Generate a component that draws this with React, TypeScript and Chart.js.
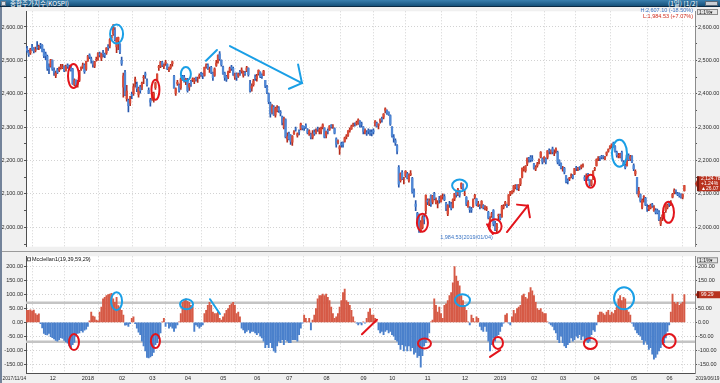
import React, { useEffect, useRef } from 'react';
import { Chart, registerables } from 'chart.js';
Chart.register(...registerables);

const FONT = '"Liberation Sans", Arial, sans-serif';

// ---- categories / ticks ----
const monthStartIdx = [13, 32, 54, 72, 93, 114, 134, 153, 175, 197, 214, 235, 257, 276, 298, 315, 335, 357, 378];
const monthLabels = ['12', '2018', '02', '03', '04', '05', '06', '07', '08', '09', '10', '11', '12', '2019', '02', '03', '04', '05', '06'];
const firstDate = '2017/11/14';
const lastDate = '2019/06/19';
const priceTicks = [1950, 2000, 2050, 2100, 2150, 2200, 2250, 2300, 2350, 2400, 2450, 2500, 2550, 2600];
const mccTicks = [-150, -100, -50, 0, 50, 100, 150, 200];
const mccBands = [70, -70];

// ---- KOSPI daily OHLC (2017/11/14 - 2019/06/19) ----
const open = [
  2535, 2526, 2522, 2540, 2535, 2530, 2540, 2540, 2545, 2545, 2530, 2520, 2512,
  2478, 2483, 2500, 2470, 2455, 2472, 2470, 2478, 2478, 2482, 2470, 2485, 2480, 2478, 2474, 2428, 2440, 2429, 2440,
  2474, 2481, 2486, 2474, 2500, 2516, 2505, 2497, 2483, 2502, 2508, 2520, 2507, 2522, 2519, 2522, 2541, 2543, 2567, 2580, 2590, 2540,
  2560, 2548, 2500, 2420, 2464, 2385, 2380, 2372, 2398, 2400, 2438, 2428, 2398, 2420, 2420, 2448, 2460, 2439,
  2410, 2382, 2386, 2383, 2418, 2440, 2478, 2483, 2495, 2482, 2491, 2488, 2472, 2478, 2490, 2452, 2402, 2430, 2425, 2418, 2452,
  2450, 2437, 2442, 2420, 2437, 2442, 2438, 2448, 2445, 2452, 2460, 2460, 2455, 2482, 2486, 2473, 2479, 2462, 2455, 2485, 2497,
  2520, 2500, 2480, 2462, 2452, 2450, 2468, 2480, 2476, 2450, 2460, 2453, 2465, 2468, 2455, 2462, 2470, 2476, 2430, 2417,
  2427, 2450, 2445, 2460, 2465, 2456, 2455, 2440, 2420, 2400, 2371, 2345, 2360, 2336, 2350, 2358, 2345, 2331, 2300,
  2323, 2265, 2280, 2275, 2255, 2280, 2295, 2275, 2288, 2295, 2305, 2300, 2305, 2292, 2280, 2278, 2270, 2285, 2285, 2295, 2288, 2288,
  2300, 2298, 2275, 2290, 2292, 2305, 2303, 2296, 2265, 2255, 2235, 2250, 2252, 2257, 2271, 2276, 2290, 2295, 2305, 2310, 2310, 2312,
  2318, 2310, 2300, 2285, 2283, 2290, 2284, 2285, 2290, 2305, 2312, 2305, 2318, 2325, 2330, 2350, 2350,
  2345, 2335, 2300, 2270, 2260, 2245, 2180, 2140, 2165, 2145, 2155, 2160, 2140, 2158, 2147, 2106, 2070, 2042, 2035, 1990, 2000,
  2030, 2050, 2080, 2072, 2095, 2075, 2100, 2075, 2070, 2085, 2078, 2092, 2092, 2072, 2040, 2070, 2070, 2060, 2085, 2105, 2100, 2105,
  2120, 2128, 2100, 2090, 2062, 2058, 2055, 2062, 2090, 2085, 2067, 2063, 2060, 2065, 2058, 2055, 2045, 2005, 2035,
  2050, 2011, 1992, 2035, 2035, 2032, 2060, 2070, 2068, 2068, 2100, 2103, 2110, 2120, 2125, 2118, 2130, 2150, 2175, 2170, 2190, 2206,
  2210, 2205, 2190, 2175, 2185, 2200, 2210, 2205, 2205, 2205, 2210, 2230, 2225, 2235, 2225, 2230, 2225,
  2200, 2190, 2175, 2177, 2155, 2140, 2145, 2155, 2154, 2160, 2178, 2175, 2178, 2180, 2186, 2150, 2150, 2160, 2140, 2128,
  2145, 2175, 2185, 2205, 2210, 2213, 2212, 2205, 2218, 2228, 2240, 2243, 2252, 2242, 2225, 2215, 2210, 2225, 2195, 2185, 2185, 2215,
  2205, 2212, 2185, 2160, 2150, 2095, 2098, 2060, 2090, 2087, 2060, 2055, 2058, 2068, 2050, 2050, 2050, 2045, 2010, 2030, 2030,
  2050, 2060, 2075, 2070, 2090, 2105, 2110, 2100, 2100, 2098, 2090, 2110,
];
const high = [
  2542, 2530, 2536, 2548, 2538, 2540, 2556, 2546, 2551, 2547, 2534, 2525, 2516,
  2490, 2503, 2502, 2478, 2468, 2476, 2480, 2488, 2488, 2484, 2486, 2490, 2486, 2484, 2476, 2445, 2442, 2440, 2470,
  2481, 2492, 2490, 2498, 2515, 2520, 2510, 2498, 2497, 2510, 2523, 2525, 2522, 2530, 2522, 2538, 2547, 2565, 2575, 2607, 2598, 2568,
  2570, 2550, 2510, 2462, 2470, 2425, 2384, 2392, 2405, 2430, 2450, 2435, 2420, 2425, 2435, 2455, 2465, 2445,
  2418, 2386, 2404, 2405, 2435, 2460, 2485, 2497, 2497, 2490, 2500, 2490, 2480, 2488, 2498, 2455, 2418, 2440, 2430, 2448, 2455,
  2455, 2446, 2446, 2431, 2440, 2448, 2447, 2450, 2450, 2460, 2464, 2462, 2480, 2490, 2490, 2480, 2482, 2465, 2478, 2500, 2517,
  2526, 2502, 2483, 2465, 2455, 2468, 2480, 2485, 2480, 2462, 2463, 2462, 2470, 2478, 2468, 2467, 2482, 2478, 2440, 2430,
  2443, 2457, 2458, 2472, 2466, 2460, 2470, 2440, 2425, 2402, 2375, 2368, 2365, 2360, 2365, 2362, 2350, 2333, 2330,
  2325, 2283, 2285, 2278, 2275, 2290, 2300, 2283, 2292, 2312, 2305, 2302, 2310, 2296, 2292, 2282, 2290, 2292, 2295, 2300, 2298, 2300,
  2310, 2298, 2288, 2295, 2305, 2308, 2308, 2298, 2268, 2262, 2245, 2255, 2256, 2270, 2278, 2290, 2298, 2306, 2312, 2313, 2318, 2325,
  2320, 2315, 2302, 2295, 2290, 2295, 2292, 2292, 2295, 2320, 2315, 2310, 2325, 2330, 2341, 2358, 2352,
  2346, 2337, 2302, 2278, 2265, 2248, 2185, 2163, 2170, 2150, 2170, 2165, 2160, 2170, 2150, 2115, 2080, 2045, 2040, 2020, 2035,
  2040, 2097, 2085, 2085, 2097, 2096, 2105, 2088, 2080, 2093, 2095, 2100, 2098, 2075, 2068, 2078, 2075, 2085, 2102, 2108, 2117, 2110,
  2133, 2130, 2110, 2092, 2080, 2062, 2060, 2085, 2099, 2086, 2078, 2068, 2080, 2068, 2065, 2062, 2048, 2032, 2045,
  2053, 2018, 2012, 2040, 2040, 2066, 2068, 2078, 2070, 2098, 2108, 2110, 2126, 2128, 2128, 2128, 2146, 2178, 2182, 2185, 2208, 2210,
  2215, 2215, 2192, 2185, 2195, 2205, 2227, 2208, 2212, 2208, 2230, 2235, 2232, 2240, 2232, 2238, 2228,
  2202, 2193, 2183, 2180, 2155, 2145, 2150, 2160, 2158, 2177, 2183, 2180, 2182, 2187, 2190, 2155, 2160, 2162, 2143, 2142,
  2170, 2180, 2205, 2212, 2212, 2216, 2215, 2213, 2226, 2235, 2245, 2250, 2255, 2245, 2228, 2222, 2222, 2228, 2200, 2190, 2218, 2220,
  2216, 2215, 2190, 2172, 2150, 2120, 2100, 2085, 2095, 2090, 2068, 2066, 2070, 2072, 2065, 2056, 2055, 2050, 2030, 2038, 2045,
  2068, 2070, 2078, 2080, 2102, 2115, 2112, 2105, 2103, 2100, 2100, 2126,
];
const low = [
  2524, 2512, 2518, 2530, 2522, 2525, 2533, 2532, 2536, 2525, 2508, 2502, 2470,
  2460, 2480, 2470, 2455, 2448, 2460, 2466, 2474, 2475, 2466, 2468, 2476, 2472, 2468, 2428, 2424, 2420, 2420, 2436,
  2470, 2476, 2461, 2470, 2497, 2505, 2492, 2480, 2478, 2498, 2500, 2510, 2499, 2510, 2508, 2518, 2530, 2537, 2562, 2575, 2558, 2523,
  2532, 2520, 2485, 2390, 2394, 2378, 2346, 2364, 2385, 2395, 2420, 2406, 2390, 2402, 2412, 2430, 2446, 2423,
  2400, 2363, 2380, 2375, 2413, 2438, 2470, 2478, 2481, 2475, 2485, 2472, 2466, 2474, 2483, 2417, 2395, 2425, 2405, 2413, 2440,
  2435, 2427, 2405, 2410, 2422, 2436, 2430, 2438, 2434, 2446, 2452, 2445, 2453, 2477, 2473, 2464, 2460, 2440, 2452, 2482, 2492,
  2500, 2483, 2458, 2440, 2437, 2445, 2463, 2470, 2455, 2443, 2440, 2449, 2455, 2462, 2450, 2455, 2466, 2453, 2405, 2408,
  2423, 2440, 2438, 2456, 2448, 2446, 2454, 2418, 2400, 2370, 2330, 2340, 2335, 2330, 2346, 2344, 2334, 2307, 2295,
  2268, 2255, 2262, 2248, 2245, 2278, 2288, 2270, 2277, 2292, 2292, 2290, 2296, 2280, 2275, 2265, 2265, 2275, 2280, 2287, 2280, 2280,
  2295, 2268, 2268, 2280, 2290, 2297, 2296, 2280, 2240, 2250, 2218, 2240, 2240, 2255, 2265, 2272, 2285, 2293, 2302, 2303, 2306, 2308,
  2300, 2300, 2280, 2280, 2275, 2280, 2275, 2274, 2280, 2303, 2300, 2295, 2312, 2315, 2325, 2343, 2338,
  2335, 2305, 2270, 2255, 2245, 2220, 2120, 2135, 2143, 2130, 2150, 2145, 2135, 2155, 2102, 2090, 2050, 2010, 1985, 1985, 1995,
  2010, 2040, 2068, 2065, 2063, 2070, 2082, 2070, 2058, 2072, 2075, 2084, 2080, 2050, 2035, 2060, 2052, 2058, 2080, 2090, 2095, 2090,
  2115, 2110, 2095, 2065, 2060, 2045, 2045, 2060, 2085, 2065, 2062, 2055, 2058, 2055, 2052, 2050, 2025, 2000, 2030,
  2004, 1990, 1984.53, 2020, 2022, 2030, 2055, 2065, 2060, 2065, 2095, 2100, 2105, 2115, 2112, 2110, 2125, 2148, 2168, 2165, 2185, 2195,
  2196, 2198, 2174, 2170, 2180, 2190, 2208, 2190, 2195, 2190, 2205, 2220, 2220, 2220, 2215, 2222, 2190,
  2185, 2175, 2168, 2160, 2133, 2130, 2140, 2148, 2145, 2158, 2170, 2170, 2172, 2175, 2180, 2140, 2145, 2140, 2123, 2125,
  2143, 2170, 2183, 2200, 2200, 2205, 2205, 2202, 2214, 2225, 2235, 2238, 2240, 2225, 2210, 2208, 2208, 2198, 2185, 2175, 2183, 2200,
  2200, 2194, 2170, 2155, 2100, 2090, 2075, 2055, 2075, 2065, 2048, 2050, 2055, 2060, 2048, 2040, 2040, 2020, 2005, 2020, 2027,
  2045, 2055, 2062, 2065, 2088, 2100, 2100, 2095, 2090, 2087, 2085, 2108,
];
const close = [
  2530, 2518, 2534, 2533, 2528, 2532, 2537, 2541, 2544, 2527, 2514, 2513, 2476,
  2476, 2502, 2474, 2464, 2462, 2464, 2475, 2481, 2481, 2469, 2482, 2482, 2479, 2472, 2430, 2441, 2427, 2437, 2467,
  2479, 2486, 2466, 2497, 2513, 2510, 2500, 2488, 2496, 2503, 2521, 2516, 2521, 2520, 2515, 2537, 2538, 2562, 2574, 2598, 2562, 2566,
  2568, 2525, 2491, 2454, 2396, 2408, 2364, 2385, 2395, 2421, 2443, 2415, 2417, 2409, 2431, 2450, 2456, 2427,
  2402, 2375, 2401, 2401, 2433, 2459, 2482, 2495, 2486, 2486, 2494, 2475, 2478, 2484, 2496, 2417, 2415, 2434, 2409, 2445, 2445,
  2444, 2443, 2409, 2429, 2429, 2444, 2443, 2444, 2445, 2455, 2457, 2454, 2479, 2486, 2476, 2474, 2464, 2448, 2475, 2492, 2515,
  2505, 2487, 2461, 2449, 2443, 2465, 2477, 2476, 2458, 2459, 2448, 2460, 2463, 2471, 2466, 2460, 2478, 2457, 2409, 2423,
  2438, 2447, 2453, 2470, 2451, 2452, 2468, 2423, 2404, 2376, 2340, 2363, 2337, 2357, 2357, 2350, 2342, 2314, 2326,
  2271, 2272, 2265, 2257, 2273, 2285, 2294, 2280, 2286, 2310, 2297, 2298, 2301, 2283, 2289, 2270, 2281, 2280, 2290, 2294, 2293, 2295,
  2307, 2270, 2287, 2287, 2303, 2301, 2303, 2282, 2248, 2258, 2241, 2247, 2248, 2268, 2273, 2289, 2293, 2303, 2307, 2309, 2314, 2322,
  2307, 2309, 2287, 2290, 2282, 2288, 2283, 2282, 2286, 2318, 2303, 2309, 2323, 2322, 2339, 2355, 2343,
  2338, 2309, 2274, 2267, 2253, 2228, 2129, 2161, 2145, 2145, 2168, 2148, 2156, 2161, 2106, 2097, 2063, 2027, 1996, 2014, 2029,
  2024, 2096, 2076, 2079, 2069, 2094, 2086, 2081, 2071, 2083, 2093, 2092, 2083, 2057, 2065, 2069, 2057, 2083, 2100, 2097, 2114, 2096,
  2131, 2114, 2101, 2069, 2075, 2053, 2052, 2082, 2096, 2069, 2071, 2062, 2078, 2060, 2061, 2056, 2028, 2028, 2041,
  2010, 1993, 2010, 2037, 2025, 2064, 2063, 2075, 2064, 2097, 2106, 2107, 2124, 2124, 2116, 2127, 2145, 2177, 2177, 2183, 2206, 2204,
  2203, 2203, 2177, 2180, 2190, 2201, 2225, 2196, 2210, 2196, 2229, 2228, 2230, 2226, 2225, 2234, 2195,
  2190, 2179, 2175, 2166, 2137, 2138, 2148, 2155, 2149, 2176, 2177, 2177, 2177, 2184, 2186, 2144, 2155, 2145, 2128, 2140,
  2168, 2177, 2203, 2206, 2209, 2210, 2211, 2210, 2224, 2233, 2242, 2248, 2245, 2228, 2216, 2216, 2220, 2201, 2190, 2179, 2216, 2203,
  2212, 2196, 2176, 2168, 2102, 2108, 2079, 2081, 2092, 2067, 2055, 2061, 2067, 2064, 2060, 2045, 2044, 2023, 2023, 2036, 2041,
  2067, 2066, 2069, 2072, 2099, 2111, 2108, 2098, 2095, 2090, 2098, 2124.78,
];

// ---- McClellan oscillator (19,39,59,29) ----
const mcclellan = [
  43, 43, 45, 40, 44, 31, 26, 30, -5, -20,
  -40, -44, -45, -40, -52, -55, -60, -65, -68, -62,
  -55, -58, -65, -70, -75, -85, -91, -80, -72, -50,
  -40, -38, -30, -35, -28, -25, -15, 5, 37, 22,
  20, 8, 5, 37, 55, 84, 90, 96, 100, 101,
  104, 84, 72, 90, 60, 55, 43, 26, -10, -9,
  -15, -5, 14, 20, -5, -21, -35, -44, -68, -85,
  -103, -126, -128, -124, -120, -108, -80, -73, -60, -38,
  2, 14, -15, -3, -21, -15, -21, -33, -21, -9,
  2, 31, 72, 78, 84, 75, 72, 61, 55, -33,
  -9, -15, -21, -15, -9, 31, 43, 61, 72, 61,
  37, 31, 31, 37, 14, 8, 20, 31, 43, 49,
  61, 66, 72, 61, 31, 37,
  20, -21, -27, -38, -33, -27, -38, -33, -33, -38,
  -44, -38, -50, -56, -68, -91, -80, -91, -73, -91,
  -103, -108, -85, -68, -73, -62, -80, -62, -68, -73,
  -73, -62, -62, -62, -68, -44, -21, -3, 26, 14,
  2, 14, -27, 8, 26, 49, 84, 96, 96, 101,
  96, 101, 90, 78, 55, 31, 14, 20, 31, 55,
  78, 107, 119, 78, 72, 61, 43, 20, 2, -3,
  -9, -3, -9, 2, -3, 14, 37, 49, 26, 26,
  14, 2, -27, -38, -33, -44, -33, -27, -38, -33,
  -44, -50, -62, -68, -80, -97, -80, -103, -85, -103,
  -85, -103, -91, -114, -108, -126, -120, -161, -120, -85,
  -73, -62, -38, 2, 8, 84, 61, 37, 55, 31,
  14, 61, 66, 78, 96, 107, 142, 200, 166, 148,
  131, 96, 78, 61, 43, 2, -9, 26, 14, 2,
  20, 14,
  -15, -27, -33, -15, -33, -68, -103, -80, -56, -68,
  -50, -44, -33, -15, -3, 26, 31, -3, -9, 20,
  43, 31, 49, 55, 61, 96, 101, 90, 84, 107,
  125, 113, 96, 72, 49, 43, 49, 37, 31, 31,
  2, -3, -9, -15, -27, -38, -62, -73, -50, -73,
  -85, -91, -80, -73, -56, -68, -62, -50, -56, -44,
  -62, -50, -62, -68, -73, -68, -44, -27, -33, -9,
  26, 37, 37, 31, 26, 37, 43, 26, 37, 31,
  43, 55, 84, 96, 78, 90, 84, 43, 37, 26,
  -3, -15, -27, -38, -44, -50, -62, -79, -68, -79,
  -97, -91, -114, -132, -126, -114, -103, -91, -79, -73,
  -56, -33, -9, 37, 101, 72, 66, 72, 61, 66,
  72, 99.29,
];

const prevClose = 2098.71;
const histHigh = 2607.1;
const histLow = 1984.53;
const histLowIdx = 278;
const lowLabel = '1,984.53(2019/01/04)';

// ---- hand-drawn marks (data coordinates; radii in px) ----
const priceEllipses = [
  { i: 27.5, v: 2453, rx: 5.5, ry: 12, c: 'r' },
  { i: 53, v: 2579, rx: 6.5, ry: 9.5, c: 'b' },
  { i: 76, v: 2412, rx: 4, ry: 10, c: 'r' },
  { i: 94, v: 2459, rx: 5, ry: 7, c: 'b' },
  { i: 234, v: 2014, rx: 5.5, ry: 9, c: 'r' },
  { i: 256, v: 2125, rx: 7.5, ry: 6, c: 'b' },
  { i: 277, v: 2003, rx: 6.5, ry: 7, c: 'r' },
  { i: 333.5, v: 2138, rx: 4.5, ry: 6.5, c: 'r' },
  { i: 350.6, v: 2222, rx: 7.5, ry: 13.5, c: 'b' },
  { i: 379.6, v: 2045, rx: 5.5, ry: 10.5, c: 'r' },
];
const priceSegments = [
  { c: 'b', p: [105.9, 2499, 112.4, 2531] },
  { c: 'b', p: [120.1, 2543, 162.7, 2432] },
  { c: 'b', p: [162.7, 2432, 160.4, 2488] },
  { c: 'b', p: [162.7, 2432, 155, 2415] },
  { c: 'r', p: [272.2, 2009, 275.7, 1980] },
  { c: 'r', p: [284, 1986, 296.4, 2065] },
  { c: 'r', p: [296.4, 2065, 290, 2068] },
  { c: 'r', p: [296.4, 2065, 297.6, 2030] },
];
const mccEllipses = [
  { i: 27.8, v: -71, rx: 5, ry: 8, c: 'r' },
  { i: 53, v: 76, rx: 5.5, ry: 9, c: 'b' },
  { i: 76, v: -67, rx: 4.5, ry: 7, c: 'r' },
  { i: 94.4, v: 65, rx: 6.5, ry: 5, c: 'b' },
  { i: 235.2, v: -76, rx: 6.5, ry: 5, c: 'r' },
  { i: 257.7, v: 79, rx: 7.5, ry: 6, c: 'b' },
  { i: 278.7, v: -74, rx: 5, ry: 6, c: 'r' },
  { i: 333.4, v: -76, rx: 6.5, ry: 5.5, c: 'r' },
  { i: 353.3, v: 86, rx: 10, ry: 11, c: 'b' },
  { i: 380, v: -67, rx: 6.5, ry: 7, c: 'r' },
];
const mccSegments = [
  { c: 'b', p: [108.3, 83, 114.2, 30] },
  { c: 'r', p: [198.2, -43, 207.1, 9] },
  { c: 'r', p: [274, -124, 280, -100] },
];

const X_MIN = -0.6;
const X_MAX = 395.3;
const RED = '#e3141b';
const BLUE = '#1a9fe6';
const UP_BODY = '#d94b37';
const UP_WICK = '#b52a1a';
const DN_BODY = '#5088d6';
const DN_WICK = '#2757ad';
const GRID = '#d2d2d2';
const AXIS_BG = '#f0f0f0';
const TICK_FONT = { size: 5.5, family: FONT };

const fmt2 = (v: number) => v.toLocaleString('en-US', { minimumFractionDigits: 2, maximumFractionDigits: 2 });

function drawMarks(chart: any, ellipses: any[], segments: any[]) {
  const { ctx } = chart;
  const x = chart.scales.x;
  const y = chart.scales.y;
  ctx.save();
  ctx.lineWidth = 2;
  ctx.lineCap = 'round';
  ellipses.forEach((e) => {
    ctx.strokeStyle = e.c === 'r' ? RED : BLUE;
    ctx.beginPath();
    ctx.ellipse(x.getPixelForValue(e.i), y.getPixelForValue(e.v), e.rx, e.ry, 0, 0, Math.PI * 2);
    ctx.stroke();
  });
  segments.forEach((s) => {
    ctx.strokeStyle = s.c === 'r' ? RED : BLUE;
    ctx.beginPath();
    ctx.moveTo(x.getPixelForValue(s.p[0]), y.getPixelForValue(s.p[1]));
    ctx.lineTo(x.getPixelForValue(s.p[2]), y.getPixelForValue(s.p[3]));
    ctx.stroke();
  });
  ctx.restore();
}

function drawTag(ctx: CanvasRenderingContext2D, xLeft: number, yc: number, h: number, lines: string[]) {
  ctx.save();
  ctx.fillStyle = '#b8321f';
  ctx.beginPath();
  ctx.moveTo(xLeft, yc);
  ctx.lineTo(xLeft + 4, yc - h / 2);
  ctx.lineTo(720, yc - h / 2);
  ctx.lineTo(720, yc + h / 2);
  ctx.lineTo(xLeft + 4, yc + h / 2);
  ctx.closePath();
  ctx.fill();
  ctx.fillStyle = '#7a1a10';
  ctx.fillRect(xLeft + 2, yc - h / 2, 2, h);
  ctx.fillStyle = '#ffffff';
  ctx.font = `5px ${FONT}`;
  ctx.textAlign = 'left';
  ctx.textBaseline = 'middle';
  const step = h / lines.length;
  lines.forEach((t, k) => ctx.fillText(t, xLeft + 6, yc - h / 2 + step * (k + 0.5)));
  ctx.restore();
}

function drawButton(ctx: CanvasRenderingContext2D, x: number, y: number) {
  ctx.save();
  ctx.fillStyle = '#e4e4e4';
  ctx.fillRect(x, y, 21, 6);
  ctx.strokeStyle = '#8a8a8a';
  ctx.lineWidth = 1;
  ctx.strokeRect(x + 0.5, y + 0.5, 20, 5);
  ctx.fillStyle = '#222';
  ctx.font = `5px ${FONT}`;
  ctx.textBaseline = 'middle';
  ctx.fillText('1:1%▾', x + 2, y + 3.2);
  ctx.restore();
}

const bgPlugin = {
  id: 'bg',
  beforeDraw(chart: any) {
    const { ctx, chartArea: a } = chart;
    ctx.save();
    ctx.fillStyle = AXIS_BG;
    ctx.fillRect(0, 0, chart.width, chart.height);
    ctx.fillStyle = '#ffffff';
    ctx.fillRect(a.left, a.top, a.right - a.left, a.bottom - a.top);
    ctx.restore();
  },
};

function yAxis(pos: 'left' | 'right', min: number, max: number, ticks: number[], major: number, main: boolean) {
  return {
    type: 'linear',
    position: pos,
    min,
    max,
    afterBuildTicks: (s: any) => {
      s.ticks = ticks.map((v) => ({ value: v }));
    },
    afterFit: (s: any) => {
      s.width = pos === 'left' ? 26 : 25;
    },
    ticks: {
      font: TICK_FONT,
      color: '#2a2a2a',
      padding: 1,
      autoSkip: false,
      callback: (v: number) => (Math.abs(v % major) < 1e-6 ? fmt2(v) : ''),
    },
    grid: {
      drawOnChartArea: main,
      color: (c: any) => (c.tick && Math.abs(c.tick.value % major) < 1e-6 ? GRID : 'rgba(0,0,0,0)'),
      tickColor: '#555',
      tickLength: 2,
    },
    border: { display: true, color: pos === 'left' ? '#505050' : '#8c8c8c', dash: [1, 2] },
  };
}

export default function App() {
  const priceRef = useRef<HTMLCanvasElement>(null);
  const mccRef = useRef<HTMLCanvasElement>(null);

  useEffect(() => {
    document.body.style.margin = '0';
    const up = close.map((c, i) => c >= open[i]);
    const last = close.length - 1;
    const chg = close[last] - prevClose;

    const priceChart = new Chart(priceRef.current as HTMLCanvasElement, {
      type: 'bar',
      data: {
        datasets: [
          {
            data: close.map((_, i) => ({ x: i, y: [low[i], high[i]] })) as any,
            backgroundColor: up.map((u) => (u ? UP_WICK : DN_WICK)),
            barThickness: 1,
            grouped: false,
            order: 2,
          } as any,
          {
            data: close.map((c, i) => ({ x: i, y: [open[i], c] })) as any,
            backgroundColor: up.map((u) => (u ? UP_BODY : DN_BODY)),
            barThickness: 1.6,
            grouped: false,
            order: 1,
          } as any,
        ],
      },
      options: {
        responsive: false,
        animation: false,
        devicePixelRatio: 1,
        layout: { padding: { top: 1, bottom: 0, left: 0, right: 0 } },
        plugins: { legend: { display: false }, tooltip: { enabled: false } },
        scales: {
          x: {
            type: 'linear',
            min: X_MIN,
            max: X_MAX,
            offset: false,
            afterBuildTicks: (s: any) => {
              s.ticks = monthStartIdx.map((i) => ({ value: i - 0.5 }));
            },
            afterFit: (s: any) => {
              s.height = 0;
            },
            ticks: { display: false, autoSkip: false },
            grid: { color: GRID, drawTicks: false },
            border: { display: false, dash: [1, 2] },
          } as any,
          y: yAxis('left', 1942, 2647, priceTicks, 100, true) as any,
          y2: yAxis('right', 1942, 2647, priceTicks, 100, false) as any,
        },
      },
      plugins: [
        bgPlugin,
        {
          id: 'priceMarks',
          afterDraw(chart: any) {
            const { ctx, chartArea: a } = chart;
            const x = chart.scales.x;
            const y = chart.scales.y;
            drawMarks(chart, priceEllipses, priceSegments);
            ctx.save();
            ctx.font = `5.5px ${FONT}`;
            ctx.textBaseline = 'middle';
            ctx.textAlign = 'right';
            const lowPct = ((close[last] / histLow - 1) * 100).toFixed(2);
            const highPct = ((close[last] / histHigh - 1) * 100).toFixed(2);
            ctx.fillStyle = '#3a74c4';
            ctx.fillText(`H:${fmt2(histHigh)} (${highPct}%)`, a.right - 2, 3.5);
            ctx.fillStyle = '#d02a1a';
            ctx.fillText(`L:${fmt2(histLow)} (+${lowPct}%)`, a.right - 2, 9);
            ctx.fillStyle = '#3a74c4';
            ctx.fillText(lowLabel, x.getPixelForValue(histLowIdx) - 4, y.getPixelForValue(histLow) + 5);
            ctx.restore();
            drawTag(ctx, a.right, y.getPixelForValue(close[last]) - 2, 15, [
              fmt2(close[last]),
              `+${((chg / prevClose) * 100).toFixed(2)}%`,
              `▲${chg.toFixed(2)}`,
            ]);
            drawButton(ctx, a.right + 2, 2);
          },
        },
      ],
    } as any);

    const mccChart = new Chart(mccRef.current as HTMLCanvasElement, {
      type: 'bar',
      data: {
        datasets: [
          {
            data: mcclellan.map((v, i) => ({ x: i, y: v })) as any,
            backgroundColor: mcclellan.map((v) => (v >= 0 ? '#d65a46' : '#4a80cc')),
            barThickness: 1.25,
            grouped: false,
          } as any,
        ],
      },
      options: {
        responsive: false,
        animation: false,
        devicePixelRatio: 1,
        layout: { padding: { top: 1, bottom: 0, left: 0, right: 0 } },
        plugins: { legend: { display: false }, tooltip: { enabled: false } },
        scales: {
          x: {
            type: 'linear',
            min: X_MIN,
            max: X_MAX,
            offset: false,
            afterBuildTicks: (s: any) => {
              s.ticks = monthStartIdx.map((i) => ({ value: i - 0.5 }));
            },
            afterFit: (s: any) => {
              s.height = 10;
            },
            ticks: {
              autoSkip: false,
              maxRotation: 0,
              minRotation: 0,
              align: 'start',
              labelOffset: 1.5,
              padding: 2,
              font: TICK_FONT,
              color: '#2a2a2a',
              callback: (_v: number, k: number) => monthLabels[k],
            },
            grid: { color: GRID, drawTicks: false },
            border: { display: true, color: '#505050', dash: [1, 2] },
          } as any,
          y: yAxis('left', -182, 237, mccTicks, 50, true) as any,
          y2: yAxis('right', -182, 237, mccTicks, 50, false) as any,
        },
      },
      plugins: [
        bgPlugin,
        {
          id: 'bands',
          beforeDatasetsDraw(chart: any) {
            const { ctx, chartArea: a } = chart;
            const y = chart.scales.y;
            ctx.save();
            ctx.strokeStyle = '#c4c4c4';
            ctx.lineWidth = 2.5;
            mccBands.forEach((b) => {
              const py = y.getPixelForValue(b);
              ctx.beginPath();
              ctx.moveTo(a.left, py);
              ctx.lineTo(a.right, py);
              ctx.stroke();
            });
            ctx.restore();
          },
        },
        {
          id: 'mccMarks',
          afterDraw(chart: any) {
            const { ctx, chartArea: a } = chart;
            const y = chart.scales.y;
            drawMarks(chart, mccEllipses, mccSegments);
            ctx.save();
            ctx.fillStyle = '#ffffff';
            ctx.strokeStyle = '#666';
            ctx.lineWidth = 1;
            ctx.strokeRect(a.left + 1.5, a.top + 1.5, 3, 3);
            ctx.fillStyle = '#111';
            ctx.font = `5.5px ${FONT}`;
            ctx.textBaseline = 'middle';
            ctx.textAlign = 'left';
            ctx.fillText('Mcclellan1(19,39,59,29)', a.left + 6, a.top + 3);
            ctx.fillStyle = '#2a2a2a';
            ctx.font = `4.8px ${FONT}`;
            const ly = a.bottom + 5.5;
            ctx.fillText(firstDate, 2.5, ly);
            ctx.textAlign = 'right';
            ctx.fillText(lastDate, 719.5, ly);
            ctx.restore();
            drawTag(ctx, a.right, y.getPixelForValue(mcclellan[mcclellan.length - 1]), 7, [fmt2(mcclellan[mcclellan.length - 1])]);
            drawButton(ctx, a.right + 2, a.top + 1);
          },
        },
      ],
    } as any);

    return () => {
      priceChart.destroy();
      mccChart.destroy();
    };
  }, []);

  return (
    <div
      style={{
        position: 'absolute',
        left: 0,
        top: 0,
        width: 720,
        height: 383,
        background: AXIS_BG,
        overflow: 'hidden',
        fontFamily: FONT,
      }}
    >
      <div
        style={{
          position: 'absolute',
          left: 0,
          top: 0,
          width: 720,
          height: 6,
          background: 'linear-gradient(#3a7fae, #155079)',
          borderBottom: '1px solid #0b2a44',
          color: '#ffffff',
          fontSize: 6.5,
          lineHeight: '6px',
          whiteSpace: 'nowrap',
        }}
      >
        <div
          style={{
            position: 'absolute',
            left: 1,
            top: 0.5,
            width: 5,
            height: 5,
            background: '#d8dde3',
            border: '0.5px solid #6d7b8a',
            boxSizing: 'border-box',
          }}
        />
        <span style={{ position: 'absolute', left: 10, top: 0, fontFamily: '"Noto Sans CJK KR", sans-serif' }}>
          종합주가지수(KOSPI)
        </span>
        <span style={{ position: 'absolute', left: 668, top: 0, fontFamily: '"Noto Sans CJK KR", sans-serif' }}>
          (1일) [1/2]
        </span>
        <div
          style={{
            position: 'absolute',
            left: 705,
            top: 0.5,
            width: 13,
            height: 5,
            background: '#c9ced4',
            border: '0.5px solid #5c6a78',
            boxSizing: 'border-box',
          }}
        />
      </div>
      <canvas ref={priceRef} width={720} height={244} style={{ position: 'absolute', left: 0, top: 7, width: 720, height: 244 }} />
      <div style={{ position: 'absolute', left: 0, top: 251, width: 720, height: 1, background: '#9a9a9a' }} />
      <canvas ref={mccRef} width={720} height={131} style={{ position: 'absolute', left: 0, top: 252, width: 720, height: 131 }} />
      <div style={{ position: 'absolute', left: 0, top: 7, width: 2, height: 376, background: '#73839a' }} />
    </div>
  );
}
